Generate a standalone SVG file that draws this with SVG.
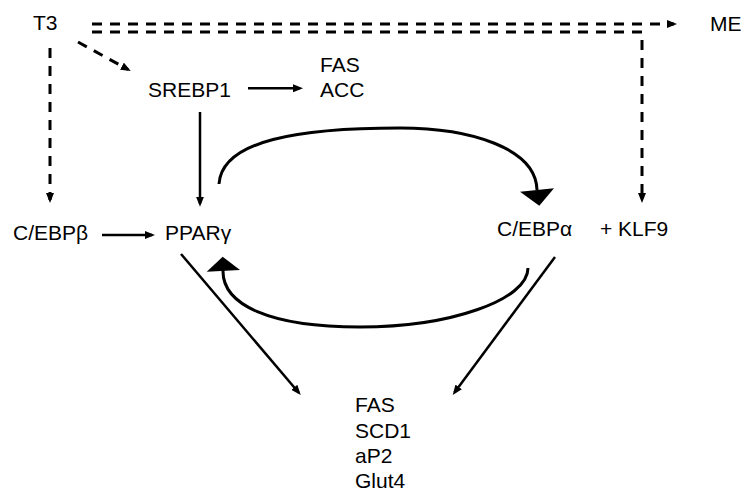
<svg xmlns="http://www.w3.org/2000/svg" width="741" height="491" viewBox="0 0 741 491">
<style>
text{font-family:"Liberation Sans",Arial,sans-serif;font-size:21px;fill:#000}
.s{fill:none;stroke:#000;stroke-width:2.5}
.d{fill:none;stroke:#000;stroke-width:3;stroke-dasharray:10 8}
.c{fill:none;stroke:#000;stroke-width:3}
.h{fill:#000}
</style>
<defs>
<marker id="a" markerUnits="userSpaceOnUse" viewBox="0 0 10 8" refX="7" refY="4" markerWidth="10" markerHeight="8" orient="auto">
<path d="M0,0 L10,4 L0,8 z" fill="#000"/>
</marker>
</defs>
<rect width="741" height="491" fill="#fff"/>
<g id="connectors">
<path class="d" d="M92 24 H674" marker-end="url(#a)"/>
<path class="d" d="M92 32 H642 V200" marker-end="url(#a)"/>
<path class="d" d="M78 42 L128.1 69.5" marker-end="url(#a)"/>
<path class="d" d="M50 48 V200" marker-end="url(#a)"/>
<path class="s" d="M248 88.3 H300" marker-end="url(#a)"/>
<path class="s" d="M200 112 V203.7" marker-end="url(#a)"/>
<path class="s" d="M102 235 H152" marker-end="url(#a)"/>
<path class="s" d="M181 254 L298.8 392.7" marker-end="url(#a)"/>
<path class="s" d="M555 257 L454.5 392.6" marker-end="url(#a)"/>
<path class="c" d="M219 184 C222 140 300 128 400 128 C470 128 536 148 537 190"/>
<polygon class="h" points="520,191.7 554,188.3 539.3,205.7"/>
<path class="c" d="M528 268 C528 300 450 327 360 327 C270 327 222 305 223 270"/>
<polygon class="h" points="206.7,271.7 240,270 222.7,256.7"/>
</g>
<g id="T3"><text x="33" y="29.5">T3</text></g>
<g id="ME"><text x="710" y="31">ME</text></g>
<g id="SREBP1"><text x="148" y="96.5">SREBP1</text></g>
<g id="FAS-ACC"><text x="320" y="72">FAS</text><text x="320" y="96.5">ACC</text></g>
<g id="CEBPb"><text x="13" y="240">C/EBPβ</text></g>
<g id="PPARg"><text x="165" y="240">PPARγ</text></g>
<g id="CEBPa"><text x="497" y="235.5">C/EBPα</text></g>
<g id="KLF9"><text x="600" y="235.5">+ KLF9</text></g>
<g id="targets">
<text x="355" y="412.3">FAS</text>
<text x="355" y="437.7">SCD1</text>
<text x="355" y="463">aP2</text>
<text x="355" y="488.3">Glut4</text>
</g>
</svg>
